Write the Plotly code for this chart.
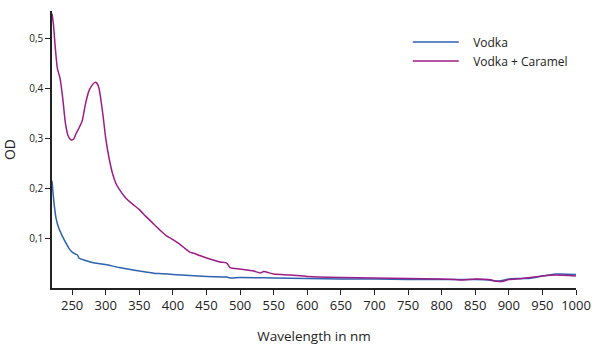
import plotly.graph_objects as go

wl_vodka = [220, 223, 226, 230, 235, 240, 245, 250, 255, 258, 260, 270, 280, 300, 320, 350, 370, 375, 380, 400, 450, 480, 485, 500, 550, 600, 650, 700, 750, 800, 850, 870, 880, 890, 900, 910, 930, 950, 960, 970, 980, 1000]
od_vodka = [0.215, 0.17, 0.14, 0.12, 0.105, 0.092, 0.08, 0.072, 0.068, 0.066, 0.060, 0.055, 0.051, 0.047, 0.041, 0.034, 0.030, 0.029, 0.029, 0.027, 0.023, 0.022, 0.020, 0.021, 0.020, 0.019, 0.018, 0.018, 0.017, 0.017, 0.017, 0.016, 0.014, 0.015, 0.018, 0.019, 0.019, 0.024, 0.026, 0.028, 0.028, 0.027]

wl_caramel = [220, 222, 225, 228, 232, 236, 240, 244, 248, 252, 256, 260, 265, 270, 275, 280, 284, 287, 290, 293, 296, 300, 305, 310, 315, 320, 330, 340, 350, 360, 370, 380, 390, 400, 410, 420, 425, 430, 440, 450, 460, 470, 480, 485, 500, 520, 530, 535, 550, 575, 600, 650, 700, 750, 800, 820, 830, 850, 870, 880, 890, 900, 920, 950, 970, 990, 1000]
od_caramel = [0.55, 0.53, 0.48, 0.44, 0.42, 0.38, 0.33, 0.305, 0.297, 0.298, 0.31, 0.32, 0.335, 0.37, 0.395, 0.407, 0.412, 0.41, 0.40, 0.375, 0.345, 0.30, 0.26, 0.23, 0.21, 0.198, 0.18, 0.168, 0.157, 0.143, 0.13, 0.117, 0.105, 0.097, 0.088, 0.077, 0.072, 0.070, 0.065, 0.060, 0.056, 0.052, 0.050, 0.041, 0.038, 0.034, 0.030, 0.033, 0.028, 0.026, 0.023, 0.021, 0.020, 0.019, 0.018, 0.017, 0.016, 0.018, 0.017, 0.014, 0.013, 0.017, 0.019, 0.024, 0.026, 0.025, 0.024]

x_ticks = [250, 300, 350, 400, 450, 500, 550, 600, 650, 700, 750, 800, 850, 900, 950, 1000]
y_ticks = [0.1, 0.2, 0.3, 0.4, 0.5]
series_names = ["Vodka", "Vodka + Caramel"]

FONT = "Open Sans"
PAD = "\u00a0\u00a0\u00a0"

fig = go.Figure()
fig.add_trace(go.Scatter(x=wl_vodka, y=od_vodka, mode="lines", name=PAD + series_names[0],
                         line=dict(color="#2e62b2", width=1.5, shape="spline", smoothing=0.6)))
fig.add_trace(go.Scatter(x=wl_caramel, y=od_caramel, mode="lines", name=PAD + series_names[1],
                         line=dict(color="#9c1d86", width=1.5, shape="spline", smoothing=0.6)))

fig.update_layout(
    width=600, height=356,
    margin=dict(l=52, r=24, t=11, b=68, autoexpand=False),
    plot_bgcolor="white", paper_bgcolor="white",
    separators=", ",
    font=dict(family=FONT, color="#222222"),
    showlegend=True,
    legend=dict(xref="paper", yref="paper", x=0.679, y=0.94, xanchor="left", yanchor="top",
                font=dict(size=12, family=FONT, color="#222222"), bgcolor="rgba(0,0,0,0)",
                itemwidth=46, tracegroupgap=0),
    xaxis=dict(range=[220, 1000], tickvals=x_ticks, ticks="outside", ticklen=5, tickwidth=1.2,
               tickangle=0,
               tickcolor="#222222", showline=True, linecolor="#222222", linewidth=1.5,
               showgrid=False, zeroline=False, tickfont=dict(size=13, family=FONT),
               title=dict(text="Wavelength in nm", font=dict(size=13.5, family=FONT), standoff=18)),
    yaxis=dict(range=[0, 0.555], tickvals=y_ticks, tickformat=".1f", ticks="outside", ticklen=5,
               tickwidth=1.2, tickcolor="#222222", showline=True, linecolor="#222222", linewidth=1.5,
               showgrid=False, zeroline=False, tickfont=dict(size=10, family=FONT),
               title=dict(text="OD", font=dict(size=14, family=FONT), standoff=12)),
)

fig.write_html("out.html")
